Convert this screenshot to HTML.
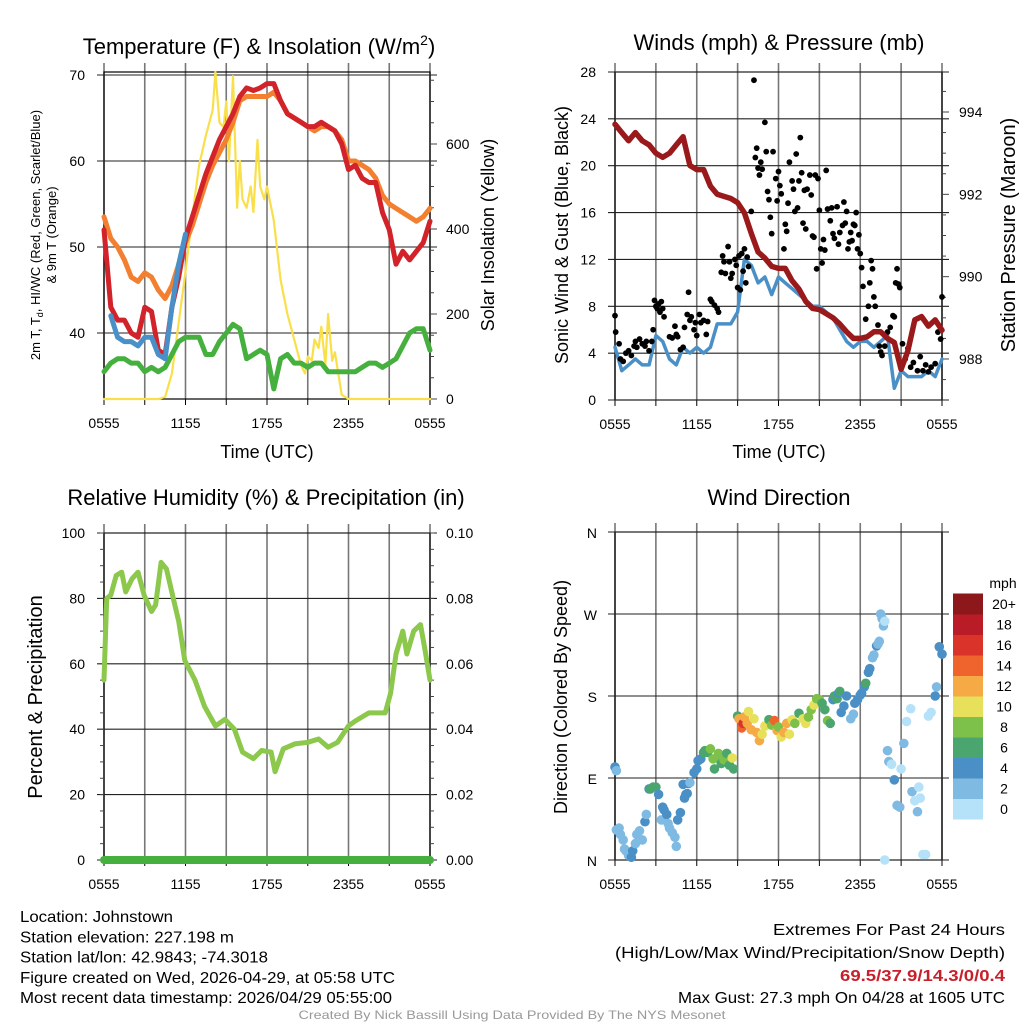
<!DOCTYPE html>
<html><head><meta charset="utf-8"><style>
html,body{margin:0;padding:0;background:#fff}
svg{display:block;font-family:"Liberation Sans",sans-serif}
</style></head><body>
<svg id="fig" width="1024" height="1024" viewBox="0 0 1024 1024" xmlns="http://www.w3.org/2000/svg"></svg>
<script>
// ---------- DATA ----------
const hours = [0,0.5,1,1.5,2,2.5,3,3.5,4,4.5,5,5.5,6,6.5,7,7.5,8,8.5,9,9.5,10,10.5,11,11.5,12,12.5,13,13.5,14,14.5,15,15.5,16,16.5,17,17.5,18,18.5,19,19.5,20,20.5,21,21.5,22,22.5,23,23.5,24];
const xTickLabels = ["0555","1155","1755","2355","0555"];
const tempRed = [52,43,41.5,41.5,40,39.5,43,42.5,38,37.5,43,46.5,51,53.5,56,58.5,60.5,62.5,64,65.5,67.5,68.5,68.2,68.5,69,69,67,65.5,65,64.5,64,64,64.5,64,63.5,62,59,59.5,58,57.5,57.5,54,52,48,49.5,48.5,49.5,50.5,53];
const temp9m = [53.5,51,50,48.5,46.5,46,47,46.5,45,44,45.5,48,50.5,52.5,55,57.5,59.5,61,62.5,64.5,67,67.5,67.5,67.5,67.5,68,67,65.5,65,64.5,64,63.5,64,64,63.5,62.5,60,60,59.5,59,58,56,55,54.5,54,53.5,53,53.5,54.5];
const dewpoint = [35.5,36.5,37,37,36.5,36.5,35.5,36,35.5,36,37.5,39,39.5,39.5,39.5,37.5,37.5,39,40,41,40.5,37,37.5,38,37.5,33.5,37,37.5,36.5,36.5,36,36.5,36.5,35.5,35.5,35.5,35.5,35.5,36,36.5,36.5,36,36.5,37,38.5,40,40.5,40.5,38];
const windChillHours = [0.5,1,1.5,2,2.5,3,3.5,4,4.5,5,5.5,6];
const windChill = [42,39.5,39,39,38.5,39.5,39.5,37.5,37,43,48,51.5];
const solarHours = [0,4,4.5,5,5.5,6,6.5,7,7.5,8,8.2,8.5,8.8,9,9.2,9.5,9.8,10,10.2,10.5,10.8,11,11.3,11.5,11.8,12,12.5,13,13.5,14,14.5,14.8,15,15.3,15.5,15.8,16,16.3,16.5,16.8,17,17.5,18,24];
const solar = [0,0,5,60,180,300,430,550,620,680,770,650,640,700,560,760,450,560,470,450,500,440,610,500,470,500,420,280,200,140,80,60,100,90,140,120,170,80,200,90,110,10,0,0];
const windHours = hours;
const sonicWind = [4.5,2.5,3,3.5,3,3,5.5,5,3.5,3,4.5,4,4.5,4,4.5,6.5,6.5,6.5,7.5,12,11.5,10,10.5,9,10.5,10,9.5,9,8.5,8,8,7.5,7,6,5,4.5,5,5,4.5,5,5.5,1,2.5,2,2,2,2.5,2,3.5];
const pressure = [993.7,993.5,993.3,993.5,993.3,993.2,993.0,992.9,993.0,993.2,993.4,992.7,992.6,992.6,992.2,992.0,991.95,991.9,991.8,991.55,991.05,990.6,990.45,990.25,990.2,990.2,989.9,989.7,989.4,989.23,989.2,989.1,989.0,988.85,988.66,988.5,988.5,988.54,988.66,988.66,988.5,988.4,987.75,988.2,988.95,989.03,988.8,988.95,988.7];
const gustHours = [0,0.05,0.3,0.4,0.6,0.8,1,1.2,1.4,1.5,1.6,1.8,2,2.2,2.3,2.5,2.7,2.8,2.9,3,3.1,3.2,3.3,3.4,3.5,3.6,4,4.2,4.4,4.5,4.6,4.8,5,5.1,5.3,5.4,5.5,5.6,5.8,5.9,6,6.2,6.3,6.5,6.7,6.8,7,7.1,7.3,7.5,7.6,7.8,7.9,8,8.1,8.3,8.4,8.5,8.6,8.8,8.9,9,9.1,9.2,9.3,9.4,9.5,9.6,9.7,9.8,10,10.2,10.3,10.4,10.5,10.6,10.7,10.8,11,11.1,11.2,11.3,11.4,11.5,11.6,11.8,11.9,12,12.1,12.2,12.4,12.5,12.6,12.7,12.8,13,13.1,13.2,13.3,13.4,13.5,13.6,13.7,13.8,13.9,14,14.1,14.3,14.4,14.5,14.6,14.7,14.8,14.9,15,15.1,15.2,15.3,15.4,15.5,15.6,15.8,15.9,16,16.1,16.3,16.4,16.5,16.7,16.8,16.9,17,17.1,17.2,17.3,17.4,17.5,17.6,17.7,17.8,17.9,18,18.1,18.2,18.4,18.6,18.7,18.8,18.9,19,19.1,19.3,19.4,19.5,19.6,19.8,20,20.2,20.4,20.5,20.6,20.7,20.8,20.9,21.1,21.3,21.5,21.7,21.9,22.2,22.4,22.6,22.8,23,23.2,23.5,23.7,23.9,24];
const gusts = [7.2,5.8,4.8,3.5,3.3,4,4.2,3.8,4.6,5,4.5,5.2,4.8,4.6,5,4.2,5,6,8.5,8,7.8,8.2,7.5,8.4,7.8,7.1,5.4,5.3,6.3,5.6,5.4,4.3,4.5,6.2,7.3,9.2,6.8,7.1,6,6.6,5.5,7.3,6.6,6.8,5.6,6.7,8.6,8.4,8.1,7.8,7.5,10.9,12.3,11.8,10.8,13.1,11.8,10.4,10.8,12,11.5,9.6,12.3,9.4,12.5,11,12.9,10,12.2,11.4,16.1,27.3,20.7,21.5,19.8,19.2,20.3,19.7,23.7,21.2,17.8,17.1,15.6,14.2,21.2,18.9,17,19.5,18.3,17.6,12.9,15,14.4,16.8,20.3,18.7,18,16.1,21,16.4,18.7,22.4,19.4,15.1,17.9,14.6,18,19.2,17.5,14,13.9,19.2,11.2,18.9,16.2,12.9,11.7,13.7,12.8,19.6,16.3,15.3,16.4,14.2,13.8,16.5,13.3,14.3,14.9,16.9,15.1,16.1,12.9,13.5,14.3,13.6,15,14.9,16,12.9,14.1,12.5,11.3,9.7,6.9,8,10,11.9,11.2,8.8,8,6.4,4.6,4.1,3.8,4.6,5.8,6.2,7.2,7.1,10,11.2,9.9,9.6,4.8,3.5,4.4,2.8,3.2,2.5,3.7,2.5,3,2.4,2.8,3.1,5.8,5.2,8.8];
const rhHours = [0,0.2,0.5,0.9,1.3,1.6,2.06,2.5,2.95,3.5,3.8,4.2,4.6,5.1,5.5,5.95,6.7,7.4,8.2,8.9,9.6,10.2,11,11.6,12.3,12.6,13.2,14.05,15,15.8,16.5,17.2,18,18.5,19.5,20.7,21.1,21.5,22,22.3,22.8,23.3,23.6,24];
const rh = [55,80,81,87,88,82,86,88,81,76,78,91,89,80,73,61,55,47,41,43,40,33,31,33.5,33,27,34,35.5,36,37,34.5,36,41,42.5,45,45,51,63,70,63,70,72,65,55];
const precip = [0,0];
const precipHours = [0,24];
const dirHours = [0,0.1,0.1,0.3,0.4,0.6,0.7,0.8,1,1.2,1.3,1.5,1.6,1.8,2,2.2,2.3,2.5,2.6,2.8,3,3.2,3.4,3.5,3.6,3.8,3.9,4,4.2,4.4,4.5,4.6,4.8,5,5.1,5.2,5.3,5.4,5.5,5.8,6,6.1,6.3,6.5,6.6,6.8,7,7.2,7.3,7.5,7.6,7.8,8,8.2,8.4,8.6,8.7,9,9.1,9.3,9.4,9.5,9.7,9.8,10,10.2,10.4,10.6,10.8,11,11.3,11.5,11.7,11.9,12,12.2,12.4,12.6,12.8,13,13.2,13.5,13.8,14,14.2,14.4,14.6,14.8,15,15.2,15.4,15.6,15.8,16,16.1,16.3,16.4,16.5,16.6,16.8,17,17.3,17.5,17.6,17.8,18,18.1,18.3,18.4,18.6,18.7,18.9,19,19.2,19.3,19.4,19.5,19.6,19.7,19.8,19.8,20,20.1,20.3,20.5,20.7,20.9,21,21.2,21.4,21.7,21.8,22,22.2,22.3,22.4,22.6,22.8,23,23.2,23.5,23.6,23.8,24];
const dirDeg = [102,98,33,35,28,22,12,10,5,3,10,18,28,32,22,42,50,78,78,80,80,72,44,58,55,50,40,35,30,25,15,44,52,83,68,72,73,84,85,96,100,109,111,118,120,118,122,111,100,112,117,106,110,117,104,112,100,158,155,145,150,157,150,163,143,155,140,131,138,147,154,148,153,142,146,135,140,150,138,154,150,161,155,150,157,165,170,177,176,172,165,153,150,176,180,177,183,185,162,169,180,155,160,172,176,181,183,190,194,206,210,222,225,235,237,240,270,265,257,262,0,120,108,105,88,60,58,100,128,152,166,75,65,53,80,68,6,6,158,162,180,190,234,226];
const dirSpeed = [4,2,2,2,2,2,2,2,3,4,4,2,2,2,2,4,2,4,6,6,6,4,2,4,4,4,2,2,2,2,2,4,4,4,4,4,4,4,2,4,4,4,4,6,6,6,8,8,6,8,8,6,8,6,6,10,6,6,12,14,16,12,12,10,12,10,12,12,10,10,6,8,14,12,8,10,12,12,10,10,8,6,10,10,8,8,10,8,8,6,6,8,6,4,6,6,4,6,4,4,4,2,2,4,4,4,4,4,6,4,4,2,2,4,2,2,2,2,2,0,0,2,2,0,4,2,2,0,2,0,0,2,0,2,0,0,0,0,0,0,4,2,4,4];
const speedBinLabels = ["0","2","4","6","8","10","12","14","16","18","20+"];
const speedBinColors = ["#b5e2f8","#7fbae2","#4a90c6","#4aa66e","#7dc14a","#e6e05a","#f5aa45","#ef632c","#da3329","#b91c26","#8d181b"];
const tempTicks = [40,50,60,70];
const solarTicks = [0,200,400,600];
const windTicks = [0,4,8,12,16,20,24,28];
const presTicks = [988,990,992,994];
const rhTicks = [0,20,40,60,80,100];
const precipTickLabels = ["0.00","0.02","0.04","0.06","0.08","0.10"];
const dirTickDeg = [0,90,180,270,360];
const dirTickLabels = ["N","E","S","W","N"];

// ---------- HELPERS ----------
const NS="http://www.w3.org/2000/svg";
const svg=document.getElementById('fig');
function mk(tag,attrs,parent,name,inter){
  const e=document.createElementNS(NS,tag);
  for(const k in attrs) e.setAttribute(k,attrs[k]);
  
  
  (parent||svg).appendChild(e);return e;
}
function txt(s,x,y,size,anchor,parent,name,extra){
  const a=Object.assign({x:x,y:y,'font-size':size,'text-anchor':anchor||'middle',fill:'#000'},extra||{});
  const t=mk('text',a,parent,name,false);t.textContent=s;return t;
}
function rtxt(s,x,y,size,parent,name){
  return txt(s,0,0,size,'middle',parent,name,{transform:`translate(${x},${y}) rotate(-90)`});
}
function lin(x0,x1,d0,d1,p0,p1){return v=>p0+(v-d0)*(p1-p0)/(d1-d0);}

function frame(g,x0,x1,yT,yB,nameP){
  const X=lin(0,24,0,24,x0,x1);
  for(let h=0;h<=24;h+=3){
    mk('line',{x1:X(h),x2:X(h),y1:yT-9,y2:yB,stroke:'#777','stroke-width':1.6},g,nameP+'-vgrid',false);
    mk('line',{x1:X(h),x2:X(h),y1:yB,y2:yB+6,stroke:'#000','stroke-width':1},g,nameP+'-xtick',false);
  }
  xTickLabels.forEach((l,i)=>txt(l,X(i*6),yB+29,14,'middle',g,nameP+'-x-label'));
  mk('rect',{x:x0,y:yT,width:x1-x0,height:yB-yT,fill:'none',stroke:'#000','stroke-width':1.2},g,nameP+'-frame',false);
  return X;
}
function hgrid(g,x0,x1,y,nameP){
  mk('line',{x1:x0-7,x2:x1+7,y1:y,y2:y,stroke:'#222','stroke-width':1.1},g,nameP+'-hgrid',false);
}
function path(g,xs,ys,X,Y,color,w,name){
  let d='';xs.forEach((h,i)=>{d+=(i?'L':'M')+X(h).toFixed(1)+','+Y(ys[i]).toFixed(1);});
  return mk('path',{d:d,fill:'none',stroke:color,'stroke-width':w,'stroke-linejoin':'round','stroke-linecap':'round'},g,name,false);
}

// ---------- PANEL 1: Temperature ----------
{
const g=mk('g',{},svg,'temperature-panel',false);
const x0=104,x1=430,yT=72,yB=399;
txt('Temperature (F) & Insolation (W/m',259,54,22,'middle',g,'temperature-title').innerHTML='Temperature (F) &amp; Insolation (W/m<tspan font-size="14" dy="-9">2</tspan><tspan dy="9">)</tspan>';
const X=frame(g,x0,x1,yT,yB,'temp');
const Y=lin(60,40,60,40,161,333);
const YS=lin(0,200,0,200,399,314);
tempTicks.forEach(t=>{hgrid(g,x0,x1,Y(t),'temp');txt(String(t),85,Y(t)+5,14,'end',g,'temp-y-label');});
for(let w=0;w<=750;w+=50){mk('line',{x1:x1,x2:x1+(w%200===0?7:4),y1:YS(w),y2:YS(w),stroke:'#444','stroke-width':1},g,'solar-tick',false);}
solarTicks.forEach(t=>txt(String(t),446,YS(t)+5,14,'start',g,'solar-y-label'));
path(g,solarHours,solar,X,YS,'#f9e04b',2.2,'solar-insolation-line');
path(g,hours,temp9m,X,Y,'#f28030',5,'temp-9m-line');
path(g,hours,dewpoint,X,Y,'#45b03e',5,'dewpoint-line');
path(g,hours,tempRed,X,Y,'#d2232a',5,'temp-2m-line');
path(g,windChillHours,windChill,X,Y,'#4a90c8',5,'windchill-line');
txt('Time (UTC)',267,458,18,'middle',g,'temp-x-title');
const t1=rtxt('',40,235,13,g,'temp-y-title');
t1.innerHTML='2m T, T<tspan font-size="9" dy="3">d</tspan><tspan dy="-3">, HI/WC (Red, Green, Scarlet/Blue)</tspan>';
rtxt('& 9m T (Orange)',56,235,13,g,'temp-y-title-2');
rtxt('Solar Insolation (Yellow)',494,235,18,g,'solar-y-title');
}

// ---------- PANEL 2: Winds ----------
{
const g=mk('g',{},svg,'winds-panel',false);
const x0=615,x1=942,yT=72,yB=400;
txt('Winds (mph) & Pressure (mb)',779,50,22,'middle',g,'winds-title');
const X=frame(g,x0,x1,yT,yB,'wind');
const Y=lin(0,28,0,28,400,72);
const YP=lin(994,988,994,988,112,359);
windTicks.forEach(t=>{hgrid(g,x0,x1,Y(t),'wind');txt(String(t),596,Y(t)+5,14,'end',g,'wind-y-label');});
for(let p=987.5;p<=995.5;p+=0.5){const yy=YP(p);if(yy<yT||yy>yB)continue;mk('line',{x1:x1,x2:x1+(p%2===0?7:4),y1:yy,y2:yy,stroke:'#444','stroke-width':1},g,'pressure-tick',false);}
presTicks.forEach(t=>txt(String(t),959,YP(t)+5,14,'start',g,'pressure-y-label'));
path(g,windHours,sonicWind,X,Y,'#4a90c8',3.5,'sonic-wind-line');
gustHours.forEach((h,i)=>{mk('circle',{cx:X(h),cy:Y(gusts[i]),r:2.9,fill:'#000'},g,'gust-point',false);});
path(g,hours,pressure,X,YP,'#9a1a1c',5.5,'pressure-line');
txt('Time (UTC)',779,458,18,'middle',g,'wind-x-title');
rtxt('Sonic Wind & Gust (Blue, Black)',568,235,18,g,'wind-y-title');
rtxt('Station Pressure (Maroon)',1015,235,20,g,'pressure-y-title');
}

// ---------- PANEL 3: RH ----------
{
const g=mk('g',{},svg,'humidity-panel',false);
const x0=104,x1=430,yT=533,yB=860;
txt('Relative Humidity (%) & Precipitation (in)',266,505,22,'middle',g,'humidity-title');
const X=frame(g,x0,x1,yT,yB,'rh');
const Y=lin(0,100,0,100,860,533);
rhTicks.forEach((t,i)=>{hgrid(g,x0,x1,Y(t),'rh');txt(String(t),85,Y(t)+5,14,'end',g,'rh-y-label');txt(precipTickLabels[i],446,Y(t)+5,14,'start',g,'precip-y-label');});
for(let t=0;t<=100;t+=5){mk('line',{x1:x1,x2:x1+4,y1:Y(t),y2:Y(t),stroke:'#444','stroke-width':1},g,'precip-tick',false);mk('line',{x1:x0,x2:x0-4,y1:Y(t),y2:Y(t),stroke:'#444','stroke-width':1},g,'rh-minor-tick',false);}
path(g,rhHours,rh,X,Y,'#8cc84b',5,'humidity-line');
path(g,precipHours,precip.map(v=>v*1000),X,Y,'#45b03e',8,'precipitation-line');
rtxt('Percent & Precipitation',42,697,20,g,'rh-y-title');
}

// ---------- PANEL 4: Wind Direction ----------
{
const g=mk('g',{},svg,'direction-panel',false);
const x0=615,x1=942,yT=532,yB=860;
txt('Wind Direction',779,505,22,'middle',g,'direction-title');
const X=frame(g,x0,x1,yT,yB,'dir');
const Y=lin(0,360,0,360,860,532);
dirTickDeg.forEach((d,i)=>{hgrid(g,x0,x1,Y(d),'dir');txt(dirTickLabels[i],597,Y(d)+6,14,'end',g,'dir-y-label');});
dirHours.forEach((h,i)=>{const b=Math.min(10,Math.floor(dirSpeed[i]/2));
  mk('circle',{cx:X(h),cy:Y(dirDeg[i]),r:4.8,fill:speedBinColors[b]},g,'direction-point',false);});
rtxt('Direction (Colored By Speed)',567,697,18,g,'dir-y-title');
txt('mph',1003,588,14,'middle',g,'colorbar-title');
const bh=20.5, cbBot=819;
speedBinColors.forEach((c,i)=>{
  mk('rect',{x:953,y:cbBot-(i+1)*bh,width:30,height:bh+0.5,fill:c},g,'colorbar-swatch',false);
  txt(speedBinLabels[i],1004,cbBot-(i+0.5)*bh+5,14,'middle',g,'colorbar-label');
});
}

// ---------- FOOTER ----------
{
const g=mk('g',{},svg,'info-text',false);
const left=[["Location: Johnstown",153],["Station elevation: 227.198 m",214],["Station lat/lon: 42.9843; -74.3018",248],["Figure created on Wed, 2026-04-29, at 05:58 UTC",375],["Most recent data timestamp: 2026/04/29 05:55:00",372]];
left.forEach((l,i)=>txt(l[0],20,922+i*20.3,16,'start',g,'station-info-line',{textLength:l[1],lengthAdjust:'spacingAndGlyphs'}));
txt('Extremes For Past 24 Hours',1005,935,16,'end',g,'extremes-title',{textLength:232,lengthAdjust:'spacingAndGlyphs'});
txt('(High/Low/Max Wind/Precipitation/Snow Depth)',1005,958,16,'end',g,'extremes-subtitle',{textLength:390,lengthAdjust:'spacingAndGlyphs'});
txt('69.5/37.9/14.3/0/0.4',1005,981,16,'end',g,'extremes-values',{fill:'#c8202a','font-weight':'bold',textLength:165,lengthAdjust:'spacingAndGlyphs'});
txt('Max Gust: 27.3 mph On 04/28 at 1605 UTC',1005,1003,16,'end',g,'max-gust-text',{textLength:327,lengthAdjust:'spacingAndGlyphs'});
txt('Created By Nick Bassill Using Data Provided By The NYS Mesonet',512,1019,12,'middle',g,'credit-text',{fill:'#999',textLength:427,lengthAdjust:'spacingAndGlyphs'});
}
</script>
</body></html>
